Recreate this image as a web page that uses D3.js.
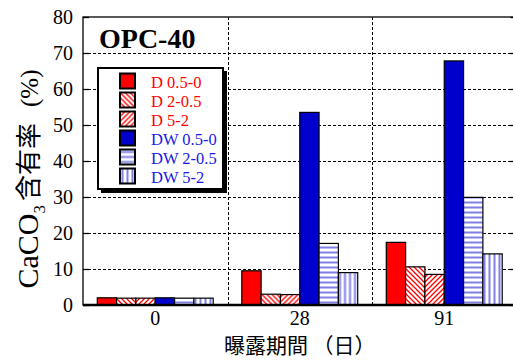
<!DOCTYPE html>
<html>
<head>
<meta charset="utf-8">
<script src="https://cdn.jsdelivr.net/npm/d3@7"></script>
<style>
  html, body { margin: 0; padding: 0; background: #fff; }
  svg { display: block; }
</style>
</head>
<body>
<svg id="chart" width="513" height="360"></svg>
<script>
// Exposure periods (days) on the x axis
const categories = ["0", "28", "91"];
// Series: drying (D) and drying-wetting (DW) depth ranges
const seriesNames = ["D 0.5-0", "D 2-0.5", "D 5-2", "DW 0.5-0", "DW 2-0.5", "DW 5-2"];
// CaCO3 content (%) per series, one value per exposure period
const d_05_0  = [2.0, 9.5, 17.4];
const d_2_05  = [1.9, 3.0, 10.6];
const d_5_2   = [1.9, 2.9, 8.5];
const dw_05_0 = [2.0, 53.5, 67.8];
const dw_2_05 = [1.9, 17.1, 29.9];
const dw_5_2  = [1.9, 9.0, 14.2];
const yTicks = [0, 10, 20, 30, 40, 50, 60, 70, 80];

const seriesValues = [d_05_0, d_2_05, d_5_2, dw_05_0, dw_2_05, dw_5_2];
const fills = ["#ff0000", "url(#hatchBack)", "url(#hatchFwd)", "#0000cc", "url(#hatchH)", "url(#hatchV)"];
const textColors = ["#ff0000", "#ff0000", "#ff0000", "#1a1adf", "#1a1adf", "#1a1adf"];

const svg = d3.select("#chart");
const serif = "'Liberation Serif', 'Times New Roman', serif";
const cjk = "'Noto Sans CJK JP', 'Noto Sans', sans-serif";

const plotL = 83, plotR = 516.5, plotT = 17, plotB = 305;

const x0 = d3.scaleBand().domain(categories).range([plotL, plotR]).paddingInner(0).paddingOuter(0);
const x1 = d3.scaleBand().domain(seriesNames).range([0, x0.bandwidth()]).paddingInner(0).paddingOuter(0.74);
const y = d3.scaleLinear().domain([0, 80]).range([plotB, plotT]);

// Hatch patterns
const defs = svg.append("defs");
function hatch(id, color, path, size, width) {
  const p = defs.append("pattern").attr("id", id).attr("patternUnits", "userSpaceOnUse")
    .attr("width", size).attr("height", size);
  p.append("rect").attr("width", size).attr("height", size).attr("fill", "#fff");
  p.append("path").attr("d", path).attr("stroke", color).attr("stroke-width", width).attr("fill", "none");
}
hatch("hatchBack", "#ff0000", "M0,0 L5,5 M-1,4 L1,6 M4,-1 L6,1", 5, 1.3);
hatch("hatchFwd", "#ff0000", "M0,5 L5,0 M-1,1 L1,-1 M4,6 L6,4", 5, 1.3);
hatch("hatchH", "#7f7fe6", "M0,2.5 L5,2.5", 5, 2);
hatch("hatchV", "#7f7fe6", "M2.5,0 L2.5,5", 5, 2);

// Horizontal grid lines
svg.append("g").selectAll("line").data(yTicks.filter(t => t > 0 && t < 80)).join("line")
  .attr("x1", plotL).attr("x2", plotR)
  .attr("y1", d => Math.round(y(d)) + 0.5).attr("y2", d => Math.round(y(d)) + 0.5)
  .attr("stroke", "#000").attr("stroke-width", 1).attr("stroke-dasharray", "3,2");

// Vertical separators between periods
svg.append("g").selectAll("line").data(categories.slice(1)).join("line")
  .attr("x1", d => Math.round(x0(d)) + 0.5).attr("x2", d => Math.round(x0(d)) + 0.5)
  .attr("y1", plotT).attr("y2", plotB)
  .attr("stroke", "#000").attr("stroke-width", 1).attr("stroke-dasharray", "3,2");

// Bars
const groups = svg.append("g").selectAll("g").data(categories).join("g")
  .attr("transform", d => `translate(${x0(d)},0)`);
groups.selectAll("rect")
  .data((c, ci) => seriesNames.map((s, si) => ({ s, si, v: seriesValues[si][ci] })))
  .join("rect")
  .attr("x", d => x1(d.s))
  .attr("width", x1.bandwidth())
  .attr("y", d => y(d.v))
  .attr("height", d => y(0) - y(d.v))
  .attr("fill", d => fills[d.si])
  .attr("stroke", "#000").attr("stroke-width", 1.2);

// Frame and axes
svg.append("rect").attr("x", plotL).attr("y", plotT).attr("width", plotR - plotL).attr("height", plotB - plotT)
  .attr("fill", "none").attr("stroke", "#000").attr("stroke-width", 1.3);
svg.append("line").attr("x1", plotL).attr("x2", plotR).attr("y1", plotB).attr("y2", plotB)
  .attr("stroke", "#000").attr("stroke-width", 2.5);

const yAxisL = d3.axisLeft(y).tickValues(yTicks).tickSize(-6).tickPadding(10).tickFormat(d3.format("d"));
const gL = svg.append("g").attr("transform", `translate(${plotL},0)`).call(yAxisL);
gL.select(".domain").remove();
gL.selectAll(".tick line").attr("stroke-width", 1.3);
gL.selectAll("text").attr("font-family", serif).attr("font-size", 20).attr("fill", "#000");

const yAxisR = d3.axisRight(y).tickValues(yTicks).tickSize(-6).tickFormat("");
const gR = svg.append("g").attr("transform", `translate(${plotR},0)`).call(yAxisR);
gR.select(".domain").remove();
gR.selectAll(".tick line").attr("stroke-width", 1.3);

const xAxis = d3.axisBottom(x0).tickSize(0).tickPadding(6);
const gX = svg.append("g").attr("transform", `translate(0,${plotB})`).call(xAxis);
gX.select(".domain").remove();
gX.selectAll("text").attr("font-family", serif).attr("font-size", 20).attr("fill", "#000");

// Axis titles
svg.append("text").attr("x", (plotL + plotR) / 2).attr("y", 353)
  .attr("text-anchor", "middle").attr("font-family", cjk).attr("font-size", 21).attr("fill", "#000")
  .text("曝露期間 （日）");

const yt = svg.append("text").attr("transform", "translate(38,179) rotate(-90)")
  .attr("text-anchor", "middle").attr("fill", "#000");
yt.append("tspan").attr("font-family", serif).attr("font-size", 30).text("CaCO");
yt.append("tspan").attr("font-family", serif).attr("font-size", 17).attr("dy", 7).text("3");
yt.append("tspan").attr("font-family", cjk).attr("font-size", 26).attr("dy", -7).attr("dx", 4).text("含有率");
yt.append("tspan").attr("font-family", serif).attr("font-size", 25).attr("dx", 16).text("(%)");

// Panel title
svg.append("text").attr("x", 99).attr("y", 48)
  .attr("font-family", serif).attr("font-weight", "bold").attr("font-size", 28).attr("fill", "#000")
  .text("OPC-40");

// Legend with drop shadow
const lg = svg.append("g");
lg.append("rect").attr("x", 101).attr("y", 71).attr("width", 126).attr("height", 122).attr("fill", "#000");
lg.append("rect").attr("x", 98).attr("y", 68).attr("width", 125).attr("height", 121)
  .attr("fill", "#fff").attr("stroke", "#000").attr("stroke-width", 2);
const items = lg.selectAll("g.item").data(seriesNames).join("g").attr("class", "item")
  .attr("transform", (d, i) => `translate(0,${73.5 + i * 19})`);
items.append("rect").attr("x", 120).attr("y", 0).attr("width", 15).attr("height", 15)
  .attr("fill", (d, i) => fills[i]).attr("stroke", "#000").attr("stroke-width", 2);
items.append("text").attr("x", 151).attr("y", 14.5)
  .attr("font-family", serif).attr("font-size", 16.5).attr("fill", (d, i) => textColors[i])
  .text(d => d);
</script>
</body>
</html>
